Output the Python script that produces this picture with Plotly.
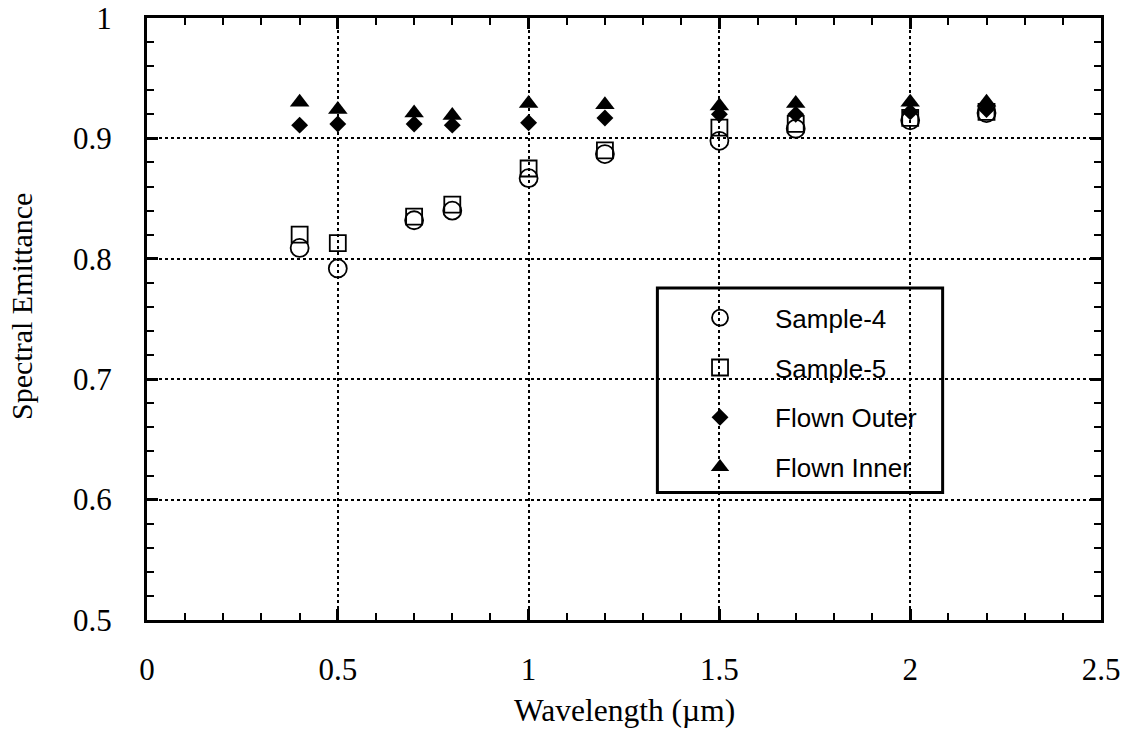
import plotly.graph_objects as go

# Wavelengths (µm) at which emittance was measured
wavelength = [0.4, 0.5, 0.7, 0.8, 1.0, 1.2, 1.5, 1.7, 2.0, 2.2]

# Spectral emittance for each specimen
sample_4 = [0.809, 0.792, 0.832, 0.840, 0.867, 0.887, 0.898, 0.908, 0.915, 0.921]
sample_5 = [0.820, 0.813, 0.835, 0.845, 0.875, 0.890, 0.909, 0.912, 0.917, 0.922]
flown_outer = [0.911, 0.912, 0.912, 0.911, 0.913, 0.917, 0.920, 0.920, 0.922, 0.924]
flown_inner = [0.930, 0.924, 0.921, 0.919, 0.929, 0.928, 0.927, 0.929, 0.930, 0.930]

series_names = ["Sample-4", "Sample-5", "Flown Outer", "Flown Inner"]

x_ticks = [0, 0.5, 1, 1.5, 2, 2.5]
x_tick_text = ["0", "0.5", "1", "1.5", "2", "2.5"]
y_ticks = [0.5, 0.6, 0.7, 0.8, 0.9, 1.0]
y_tick_text = ["0.5", "0.6", "0.7", "0.8", "0.9", "1"]

serif = "Liberation Serif, Times New Roman, serif"
sans = "Liberation Sans, Arial, Helvetica, sans-serif"

styles = [
    dict(symbol="circle-open", size=18, line=dict(width=1.8, color="black"), color="black"),
    dict(symbol="square-open", size=16, line=dict(width=1.8, color="black"), color="black"),
    dict(symbol="diamond", size=13, color="black", line=dict(width=0)),
    dict(symbol="triangle-up", size=17, color="black", line=dict(width=0)),
]

fig = go.Figure()
for name, values, mk in zip(series_names, [sample_4, sample_5, flown_outer, flown_inner], styles):
    fig.add_trace(go.Scatter(
        x=wavelength, y=values, mode="markers", name=name,
        legendgroup=name, marker=mk, cliponaxis=False,
    ))

axis_common = dict(
    showline=True, linecolor="black", linewidth=3, mirror="allticks",
    ticks="inside", ticklen=11, tickwidth=2.5, tickcolor="black",
    showgrid=True, gridcolor="black", gridwidth=1.5, griddash="dot",
    zeroline=False, automargin=False,
    tickfont=dict(family=serif, size=31, color="black"),
)

fig.update_xaxes(
    range=[0, 2.5], tickvals=x_ticks, ticktext=x_tick_text,
    minor=dict(dtick=0.1, tick0=0, ticks="inside", ticklen=7, tickwidth=2, tickcolor="black", showgrid=False),
    ticklabelstandoff=20,
    **axis_common,
)
fig.update_yaxes(
    range=[0.5, 1.0], tickvals=y_ticks, ticktext=y_tick_text,
    minor=dict(dtick=0.02, tick0=0.5, ticks="inside", ticklen=7, tickwidth=2, tickcolor="black", showgrid=False),
    ticklabelstandoff=26,
    **axis_common,
)

# Axis titles
fig.add_annotation(
    text="Wavelength (µm)", xref="paper", yref="paper", x=0.5, y=-0.15,
    xanchor="center", yanchor="middle", showarrow=False,
    font=dict(family=serif, size=31.5, color="black"),
)
fig.add_annotation(
    text="Spectral Emittance", xref="paper", yref="paper", x=-0.131, y=0.52,
    xanchor="center", yanchor="middle", textangle=-90, showarrow=False,
    font=dict(family=serif, size=30, color="black"),
)

# Legend frame
fig.add_shape(
    type="rect", xref="paper", yref="paper",
    x0=0.535, x1=0.834, y0=0.212, y1=0.5515,
    line=dict(color="black", width=3), fillcolor="rgba(0,0,0,0)",
)

fig.update_layout(
    width=1129, height=734,
    margin=dict(l=147, r=28, t=18, b=114, autoexpand=False),
    paper_bgcolor="white", plot_bgcolor="white",
    showlegend=True,
    legend=dict(
        x=0.543, y=0.541, xanchor="left", yanchor="top",
        bgcolor="rgba(0,0,0,0)", borderwidth=0,
        font=dict(family=sans, size=26, color="black"),
        tracegroupgap=13, itemwidth=100,
    ),
)

fig.write_html("out.html")
